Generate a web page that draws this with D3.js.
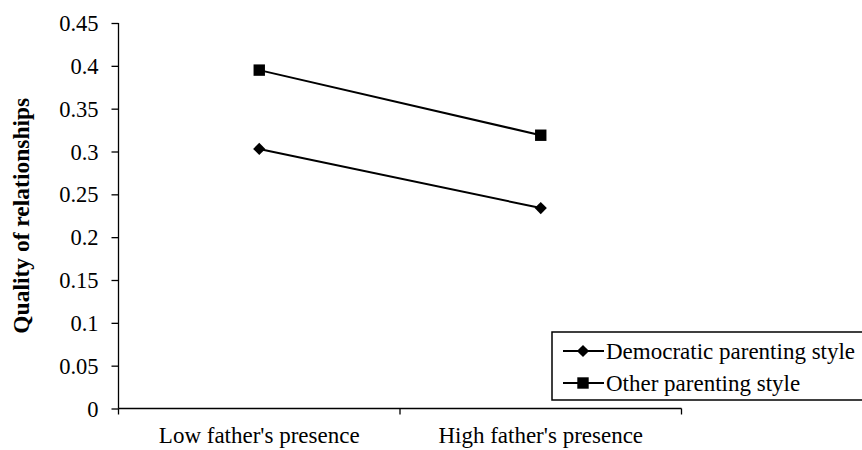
<!DOCTYPE html>
<html><head><meta charset="utf-8">
<script src="https://cdn.jsdelivr.net/npm/d3@7"></script>
<style>body{margin:0;background:#fff;} svg text{font-family:"Times New Roman","Liberation Serif",Tinos,"DejaVu Serif",serif !important;}</style>
</head><body>
<svg id="c" width="862" height="450"></svg>
<script>
const categories = ["Low father's presence", "High father's presence"];
const seriesNames = ["Democratic parenting style", "Other parenting style"];
const democratic = [0.303, 0.234];
const other = [0.395, 0.319];
const yTicks = [0, 0.05, 0.1, 0.15, 0.2, 0.25, 0.3, 0.35, 0.4, 0.45];
const yTitle = "Quality of relationships";

const svg = d3.select("#c");
const L = 118.5, R = 681.5, T = 23, B = 408.5;
const FS = 23;
const x = d3.scaleBand().domain(categories).range([L, R]);
const y = d3.scaleLinear().domain([0, 0.45]).range([B, T]);

// y axis
const ya = svg.append("g").attr("transform", `translate(${L},0)`)
  .call(d3.axisLeft(y).tickValues(yTicks).tickSize(7).tickPadding(13).tickFormat(d => String(+d.toFixed(2))));
ya.attr("font-family", null);
ya.selectAll("path,line").attr("stroke", "#000").attr("stroke-width", 1.3);
ya.select("path").attr("d", `M0,${T}V${B}`);
ya.selectAll("text").attr("font-size", 22.5).attr("fill", "#000").attr("dy", "0.34em");

// x axis
const xa = svg.append("g").attr("transform", `translate(0,${B})`);
xa.append("line").attr("x1", L).attr("x2", R).attr("stroke", "#000").attr("stroke-width", 1.3);
const xBounds = [L, ...categories.map(c => x(c) + x.bandwidth())];
xa.selectAll(".xt").data(xBounds).enter().append("line")
  .attr("x1", d => d).attr("x2", d => d).attr("y1", 0).attr("y2", 6)
  .attr("stroke", "#000").attr("stroke-width", 1.3);
xa.selectAll(".xl").data(categories).enter().append("text")
  .attr("x", d => x(d) + x.bandwidth() / 2).attr("y", 34.5)
  .attr("text-anchor", "middle").attr("font-size", FS).text(d => d);

// y title
svg.append("text").attr("transform", `translate(29,${(T + B) / 2}) rotate(-90)`)
  .attr("text-anchor", "middle").attr("font-size", 23.5).attr("font-weight", "bold").text(yTitle);

const cx = d => x(d) + x.bandwidth() / 2;
const series = [
  { name: seriesNames[0], values: democratic, sym: d3.symbolDiamond2, size: 95 },
  { name: seriesNames[1], values: other, sym: d3.symbolSquare, size: 130 }
];
const line = d3.line().x((d, i) => cx(categories[i])).y(d => y(d));
series.forEach(s => {
  svg.append("path").attr("d", line(s.values)).attr("fill", "none").attr("stroke", "#000").attr("stroke-width", 2);
  svg.selectAll(null).data(s.values).enter().append("path")
    .attr("d", d3.symbol().type(s.sym).size(s.size))
    .attr("transform", (d, i) => `translate(${cx(categories[i])},${y(d)})`)
    .attr("fill", "#000");
});

// legend
const lg = svg.append("g");
lg.append("rect").attr("x", 552).attr("y", 332).attr("width", 320).attr("height", 68)
  .attr("fill", "#fff").attr("stroke", "#000").attr("stroke-width", 1.5);
series.forEach((s, i) => {
  const yy = 351 + i * 32;
  lg.append("line").attr("x1", 563).attr("x2", 604).attr("y1", yy).attr("y2", yy).attr("stroke", "#000").attr("stroke-width", 2);
  lg.append("path").attr("d", d3.symbol().type(s.sym).size(s.size)).attr("transform", `translate(583,${yy})`).attr("fill", "#000");
  lg.append("text").attr("x", 606).attr("y", yy + 7.5).attr("font-size", FS).text(s.name);
});
</script>
</body></html>
